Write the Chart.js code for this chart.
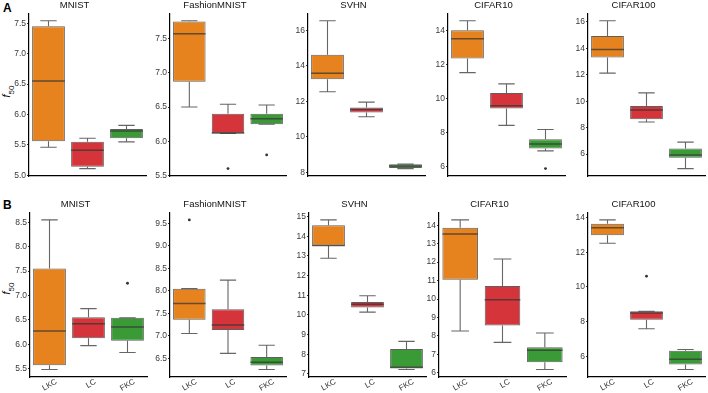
<!DOCTYPE html>
<html>
<head>
<meta charset="utf-8">
<script src="https://cdn.jsdelivr.net/npm/chart.js@4.4.1/dist/chart.umd.min.js"></script>
<style>
  html, body { margin: 0; padding: 0; background: #fff; }
  #wrap { position: relative; width: 708px; height: 393px; overflow: hidden; font-family: "Liberation Sans", Arial, sans-serif; }
  #wrap canvas { position: absolute; }
  .tag { position: absolute; font-weight: bold; font-size: 12px; color: #000; }
  .ylab { position: absolute; font-size: 11px; color: #111; transform: rotate(-90deg); transform-origin: center; white-space: nowrap; }
  .ylab sub { font-size: 8px; }
</style>
</head>
<body>
<div id="wrap">
  <div class="tag" style="left:3px;top:1px;">A</div>
  <div class="tag" style="left:3px;top:198px;">B</div>
  <div class="ylab" style="left:2px;top:84px;"><i>f</i><sub>50</sub></div>
  <div class="ylab" style="left:2px;top:281px;"><i>f</i><sub>50</sub></div>
</div>
<script>
// === f50 box plots, two rows (A, B) x five datasets ===

const datasets = ['MNIST', 'FashionMNIST', 'SVHN', 'CIFAR10', 'CIFAR100'];
const methods = ['LKC', 'LC', 'FKC'];
const colors = ['#E6831F', '#D4343A', '#3A9B36'];

// row A: [panel][method]
const lowA  = [[5.46, 5.11, 5.55], [6.50, 6.115, 6.25], [12.55, 11.14, 8.22], [11.51, 8.41, 6.91], [12.12, 8.43, 4.90]];
const q1A   = [[5.56, 5.14, 5.61], [6.87, 6.115, 6.25], [13.25, 11.38, 8.26], [12.35, 9.40, 7.05], [13.30, 8.63, 5.73]];
const medA  = [[6.55, 5.41, 5.73], [7.57, 6.12, 6.33], [13.59, 11.55, 8.37], [13.51, 9.57, 7.32], [13.90, 9.33, 5.93]];
const q3A   = [[7.45, 5.55, 5.76], [7.75, 6.40, 6.40], [14.63, 11.66, 8.46], [14.00, 10.31, 7.59], [14.93, 9.63, 6.43]];
const highA = [[7.54, 5.61, 5.82], [7.76, 6.54, 6.53], [16.54, 11.96, 8.47], [14.56, 10.85, 8.17], [16.08, 10.63, 6.90]];
const outA  = [[], [[1, 5.60], [2, 5.80]], [], [[2, 5.87]], []];
const ticksA = [[5.0, 5.5, 6.0, 6.5, 7.0, 7.5], [5.5, 6.0, 6.5, 7.0, 7.5], [8, 10, 12, 14, 16], [6, 8, 10, 12, 14], [6, 8, 10, 12, 14, 16]];

// row B
const lowB  = [[5.48, 5.97, 5.83], [7.05, 6.61, 6.25], [12.88, 10.14, 7.22], [8.27, 7.65, 6.18], [12.52, 7.58, 5.23]];
const q1B   = [[5.57, 6.12, 6.07], [7.36, 7.13, 6.34], [13.52, 10.37, 7.27], [11.04, 8.57, 6.58], [12.98, 8.10, 5.52]];
const medB  = [[6.27, 6.42, 6.35], [7.72, 7.24, 6.41], [13.53, 10.54, 7.33], [13.52, 9.96, 7.23], [13.42, 8.50, 5.83]];
const q3B   = [[7.55, 6.55, 6.54], [8.05, 7.59, 6.53], [14.56, 10.66, 8.26], [13.86, 10.71, 7.39], [13.65, 8.59, 6.31]];
const highB = [[8.55, 6.73, 6.54], [8.05, 8.24, 6.79], [14.83, 10.97, 8.65], [14.29, 12.17, 8.16], [13.87, 8.59, 6.39]];
const outB  = [[[2, 7.25]], [[0, 9.58]], [], [], [[1, 10.62]]];
const ticksB = [[5.5, 6.0, 6.5, 7.0, 7.5, 8.0, 8.5], [6.5, 7.0, 7.5, 8.0, 8.5, 9.0, 9.5], [7, 8, 9, 10, 11, 12, 13, 14, 15], [6, 7, 8, 9, 10, 11, 12, 13, 14], [6, 8, 10, 12, 14]];

// panel placement (axis x, right edge) per row
const xPosA = [[29, 146], [170, 286], [308, 425], [448, 565], [588, 705]];
const xPosB = [[30, 147], [170, 286], [309, 426], [439, 566], [588, 705]];

const FONT = "'Liberation Sans', Arial, sans-serif";
const YW = 26, PADL = 2;
const PADR = YW + PADL; // symmetric canvas so the title centres over the panel

const boxPlugin = {
  id: 'boxParts',
  beforeDatasetsDraw(chart) {
    const s = chart.canvas.$box, y = chart.scales.y, ctx = chart.ctx;
    const meta = chart.getDatasetMeta(0);
    ctx.save();
    ctx.strokeStyle = '#666';
    ctx.lineWidth = 1.1;
    meta.data.forEach((bar, j) => {
      const x = bar.x, cap = bar.width * 0.25;
      const lo = y.getPixelForValue(s.low[j]), hi = y.getPixelForValue(s.high[j]);
      const b = y.getPixelForValue(s.q1[j]), t = y.getPixelForValue(s.q3[j]);
      ctx.beginPath();
      ctx.moveTo(x, t); ctx.lineTo(x, hi);
      ctx.moveTo(x - cap, hi); ctx.lineTo(x + cap, hi);
      ctx.moveTo(x, b); ctx.lineTo(x, lo);
      ctx.moveTo(x - cap, lo); ctx.lineTo(x + cap, lo);
      ctx.stroke();
    });
    ctx.restore();
  },
  afterDatasetsDraw(chart) {
    const s = chart.canvas.$box, y = chart.scales.y, ctx = chart.ctx;
    const meta = chart.getDatasetMeta(0);
    ctx.save();
    ctx.strokeStyle = 'rgba(55,55,55,0.75)';
    ctx.lineWidth = 1.5;
    meta.data.forEach((bar, j) => {
      const m = y.getPixelForValue(s.med[j]);
      ctx.beginPath();
      ctx.moveTo(bar.x - bar.width / 2, m); ctx.lineTo(bar.x + bar.width / 2, m);
      ctx.stroke();
    });
    ctx.restore();
  }
};

function makePanel(p, row) {
  const isA = row === 'A';
  const low = (isA ? lowA : lowB)[p], q1 = (isA ? q1A : q1B)[p], med = (isA ? medA : medB)[p];
  const q3 = (isA ? q3A : q3B)[p], high = (isA ? highA : highB)[p], outs = (isA ? outA : outB)[p];
  const ticks = (isA ? ticksA : ticksB)[p];
  const [ax, right] = (isA ? xPosA : xPosB)[p];
  const decimals = ticks.some(v => v % 1 !== 0) ? 1 : 0;

  // y range like ggplot: data extent + 5%
  const all = low.concat(high, outs.map(o => o[1]));
  const mn = Math.min(...all), mx = Math.max(...all), ex = (mx - mn) * 0.05;

  const top = isA ? 0 : 198.6;
  const height = isA ? 184 : 194.4;
  const left = ax - YW - PADL;
  const width = right - left + PADR;

  const cv = document.createElement('canvas');
  cv.width = width; cv.height = height;
  cv.style.left = left + 'px'; cv.style.top = top + 'px';
  cv.style.width = width + 'px'; cv.style.height = height + 'px';
  cv.$box = { low, q1, med, q3, high };
  document.getElementById('wrap').appendChild(cv);

  new Chart(cv.getContext('2d'), {
    type: 'bar',
    data: {
      labels: methods,
      datasets: [{
        data: methods.map((m, j) => [q1[j], q3[j]]),
        backgroundColor: colors,
        borderColor: '#5f5f5f',
        borderWidth: 1,
        borderSkipped: false,
        barPercentage: 0.84,
        categoryPercentage: 1
      }, {
        type: 'scatter',
        data: outs.map(o => ({ x: methods[o[0]], y: o[1] })),
        backgroundColor: '#333',
        borderWidth: 0,
        pointRadius: 1.4
      }]
    },
    options: {
      responsive: false,
      animation: false,
      layout: { padding: { left: PADL, right: PADR, top: 0, bottom: isA ? 8 : 0 } },
      plugins: {
        legend: { display: false },
        tooltip: { enabled: false },
        title: {
          display: true, text: datasets[p], color: '#111',
          font: { family: FONT, size: 9.5, weight: 'normal' },
          padding: { top: 0, bottom: 2 }
        }
      },
      scales: {
        x: {
          offset: true,
          grid: { display: false, drawTicks: false },
          border: { display: true, color: '#000', width: 1.2 },
          ticks: {
            display: !isA, color: '#3a3a3a', padding: 0, labelOffset: 7,
            minRotation: 30, maxRotation: 30,
            font: { family: FONT, size: 8 }
          },
          afterFit: s => { s.height = isA ? 0 : 16; }
        },
        y: {
          min: mn - ex, max: mx + ex,
          grid: { drawOnChartArea: false, drawTicks: true, tickLength: 2, color: '#333' },
          border: { display: true, color: '#000', width: 1.2 },
          ticks: {
            color: '#3a3a3a', padding: 1,
            font: { family: FONT, size: 8.5 },
            callback: v => Number(v).toFixed(decimals)
          },
          afterBuildTicks: s => { s.ticks = ticks.map(v => ({ value: v })); },
          afterFit: s => { s.width = YW; }
        }
      }
    },
    plugins: [boxPlugin]
  });
}

datasets.forEach((d, p) => { makePanel(p, 'A'); makePanel(p, 'B'); });
</script>
</body>
</html>
